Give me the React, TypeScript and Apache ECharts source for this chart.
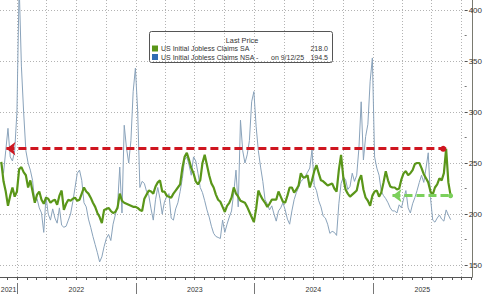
import React, { useEffect, useRef } from 'react';
import * as echarts from 'echarts';

const FONT = '"Liberation Sans", Arial, sans-serif';

// weekly observations, first week ending 2021-11-13
const FIRST_WEEK = '2021-11-13';
const saValues = [
  251, 232, 222, 208, 218, 226, 217, 222, 244, 246,
  241, 238, 226, 233, 222, 211, 219, 222, 214, 210,
  216, 215, 211, 213, 214, 209, 218, 223, 204, 210,
  214, 213, 215, 216, 213, 214, 220, 226, 222, 220,
  216, 211, 207, 201, 197, 191, 204, 205, 206, 203,
  201, 202, 206, 220, 213, 211, 210, 209, 208, 207,
  207, 206, 204, 203, 215, 219, 223, 222, 220, 227,
  231, 233, 222, 222, 218, 217, 216, 220, 223, 226,
  229, 245, 256, 260, 253, 245, 240, 232, 229, 233,
  250, 258, 248, 238, 230, 226, 219, 214, 212, 207,
  202, 208, 211, 216, 226, 220, 217, 213, 212, 211,
  207, 202, 197, 192, 205, 223, 218, 214, 211, 207,
  210, 214, 214, 214, 222, 217, 212, 211, 218, 226,
  226, 221, 224, 228, 240, 236, 236, 238, 226, 233,
  242, 248, 240, 233, 232, 230, 228, 229, 230, 225,
  222, 243, 258, 236, 224, 220, 217, 219, 221, 223,
  233, 238, 224, 216, 213, 208, 218, 222, 223, 217,
  221, 231, 242, 233, 227, 226, 226, 224, 225, 234,
  240, 242, 238, 240, 243, 249, 250, 250, 245, 239,
  235, 231, 222, 219, 226, 229, 235, 233, 240, 264,
  231, 218,
];
const nsaValues = [
  250, 240, 262, 284, 256, 252, 262, 300, 425, 345,
  300, 262, 250, 243, 233, 211, 215, 206, 201, 182,
  217, 200, 194, 205, 196, 191, 206, 189, 187, 188,
  194, 200, 212, 226, 240, 243, 233, 211, 207, 195,
  187, 178, 170, 162, 153, 158, 168, 176, 180, 174,
  190, 199, 208, 246, 201, 287, 265, 250, 272, 320,
  343, 302, 226, 232, 230, 222, 218, 205, 194, 214,
  226, 215, 200, 212, 217, 220, 196, 194, 205, 211,
  222, 235, 253, 256, 248, 238, 256, 252, 240, 226,
  221, 213, 204, 197, 188, 181, 178, 177, 176, 194,
  182, 190, 197, 203, 221, 243, 207, 292, 262, 250,
  258, 272, 310, 320, 286, 262, 246, 232, 214, 210,
  204, 208, 200, 193, 203, 206, 211, 204, 195, 190,
  203, 214, 221, 226, 232, 234, 237, 241, 245, 263,
  228, 223, 213, 207, 198, 196, 190, 181, 183, 182,
  179, 210, 230, 236, 234, 224, 227, 240, 232, 238,
  265, 310, 253, 276, 288, 330, 353, 256, 245, 238,
  222, 218, 215, 211, 206, 203, 203, 201, 209, 206,
  215, 223, 206, 201, 210, 216, 223, 231, 238, 231,
  245, 260, 216, 194, 192, 196, 199, 195, 193, 204,
  199, 194.5,
];

const yTicks = [150, 200, 250, 300, 350, 400];
const years = [2021, 2022, 2023, 2024, 2025];
const X_MIN = '2021-11-09';
const X_MAX = '2025-11-03';

const LEGEND_TITLE = 'Last Price';
const SA_NAME = 'US Initial Jobless Claims SA';
const NSA_NAME = 'US Initial Jobless Claims NSA -';
const NSA_DATE = 'on 9/12/25';

// annotations
const RED_LEVEL = 264;
const RED_FROM = '2021-11-29';
const RED_TO = '2025-08-28';
const GREEN_FROM = '2025-03-22';

const GREEN = '#5a9619';
const NSA_COLOR = '#8aa3bb';
const BLUE = '#2f6cb3';
const RED = '#cf1620';
const LIGHT_GREEN = '#7cd05c';
const GRID_COLOR = '#b3b3b3';

export default function App() {
  const ref = useRef<HTMLDivElement>(null);
  useEffect(() => {
    if (!ref.current) return;
    const chart = echarts.init(ref.current, undefined, { renderer: 'svg' });
    const t0 = new Date(FIRST_WEEK).getTime();
    const WEEK = 7 * 86400000;
    const dates = saValues.map((_, i) => t0 + i * WEEK);
    const saData = saValues.map((v, i) => [dates[i], v]);
    const nsaData = nsaValues.map((v, i) => [dates[i], v]);
    const xMin = new Date(X_MIN).getTime();
    const xMax = new Date(X_MAX).getTime();
    const lastDate = dates[dates.length - 1];
    const saLast = saValues[saValues.length - 1];
    const nsaLast = nsaValues[nsaValues.length - 1];

    const months: number[][] = [];
    for (let y = 2021; y <= 2025; y++) {
      for (let m = 0; m < 12; m++) {
        const t = Date.UTC(y, m, 1);
        if (t >= xMin && t <= xMax) months.push([t, 0]);
      }
    }
    const yearSpans = years.map((y) => [
      Math.max(Date.UTC(y, 0, 1), xMin),
      Math.min(Date.UTC(y + 1, 0, 1), xMax),
      y,
    ]);

    const legendText = (text: string, x: number, y: number, align: string, size = 7) => ({
      type: 'text', x, y,
      style: { text, align, verticalAlign: 'middle', fill: '#333', fontSize: size, fontFamily: FONT },
    });

    const option: any = {
      animation: false,
      grid: [
        { left: 0, right: 13, top: 0, bottom: 17 },
        { left: 0, right: 13, top: 10, bottom: 29 },
      ],
      xAxis: [
        {
          type: 'time', gridIndex: 0, min: xMin, max: xMax,
          axisLine: { show: true, onZero: false, lineStyle: { color: '#555', width: 1 } },
          axisTick: { show: false }, axisLabel: { show: false }, splitLine: { show: false },
        },
        { type: 'time', gridIndex: 1, min: xMin, max: xMax, show: false },
      ],
      yAxis: [
        {
          type: 'value', gridIndex: 0, min: 0, max: 1, position: 'right',
          axisLine: { show: true, onZero: false, lineStyle: { color: '#7a7a70', width: 1 } },
          axisTick: { show: false }, axisLabel: { show: false }, splitLine: { show: false },
        },
        {
          type: 'value', gridIndex: 1, min: yTicks[0], max: yTicks[yTicks.length - 1], interval: 50,
          position: 'right',
          axisLine: { show: false, onZero: false },
          axisTick: { show: true, length: 3, lineStyle: { color: '#555' } },
          minorTick: { show: true, splitNumber: 2, length: 2, lineStyle: { color: '#777' } },
          axisLabel: { color: '#333', fontSize: 8, fontFamily: FONT, margin: 4 },
          splitLine: { show: true, lineStyle: { color: GRID_COLOR, width: 1, type: [1, 2] } },
        },
      ],
      series: [
        {
          type: 'custom', xAxisIndex: 0, yAxisIndex: 0, clip: false, silent: true, z: 1,
          data: months,
          renderItem: (params: any, api: any) => {
            const t = api.value(0);
            const x = Math.round(api.coord([t, 0])[0]) + 0.5;
            const cs = params.coordSys;
            const top = cs.y;
            const bottom = cs.y + cs.height;
            const m = new Date(t).getUTCMonth();
            const children: any[] = [
              { type: 'line', shape: { x1: x, y1: bottom, x2: x, y2: bottom + 3 }, style: { stroke: '#555', lineWidth: 1 } },
            ];
            if (m % 3 === 0) {
              children.push({ type: 'line', shape: { x1: x, y1: top, x2: x, y2: bottom }, style: { stroke: GRID_COLOR, lineWidth: 1, lineDash: [1, 2] } });
            }
            if (m === 0) {
              children.push({ type: 'line', shape: { x1: x, y1: bottom + 6, x2: x, y2: bottom + 17 }, style: { stroke: '#777', lineWidth: 1 } });
            }
            return { type: 'group', children };
          },
        },
        {
          type: 'custom', xAxisIndex: 0, yAxisIndex: 0, clip: false, silent: true, z: 1,
          encode: { x: [0, 1] },
          data: yearSpans,
          renderItem: (params: any, api: any) => {
            const x1 = api.coord([api.value(0), 0])[0];
            const x2 = api.coord([api.value(1), 0])[0];
            const cs = params.coordSys;
            const bottom = cs.y + cs.height;
            return {
              type: 'text', x: (x1 + x2) / 2, y: bottom + 12,
              style: { text: String(api.value(2)), align: 'center', verticalAlign: 'middle', fill: '#333', fontSize: 7, fontFamily: FONT },
            };
          },
        },
        {
          name: 'NSA', type: 'line', xAxisIndex: 1, yAxisIndex: 1, data: nsaData,
          showSymbol: false, clip: false, z: 2,
          lineStyle: { color: NSA_COLOR, width: 1 },
          markLine: {
            silent: true, symbol: ['none', 'none'], animation: false,
            data: [
              {
                yAxis: nsaLast, lineStyle: { opacity: 0 },
                label: {
                  show: true, position: 'end', distance: 2, formatter: nsaLast.toFixed(1),
                  backgroundColor: BLUE, color: '#fff', fontSize: 7.5, fontFamily: FONT,
                  padding: [2, 3, 1, 3], borderRadius: 4,
                },
              },
            ],
          },
        },
        {
          name: 'SA', type: 'line', xAxisIndex: 1, yAxisIndex: 1, data: saData,
          showSymbol: false, clip: false, z: 3,
          lineStyle: { color: GREEN, width: 2.2 },
          markLine: {
            silent: true, symbol: ['none', 'none'], animation: false,
            label: { show: false },
            data: [
              [
                { coord: [new Date(RED_FROM).getTime(), RED_LEVEL], symbol: 'arrow', symbolSize: [10, 9], lineStyle: { color: RED, width: 3, type: [8, 4] } },
                { coord: [new Date(RED_TO).getTime(), RED_LEVEL], symbol: 'circle', symbolSize: 6, lineStyle: { color: RED, width: 3, type: [8, 4] } },
              ],
              [
                { coord: [new Date(GREEN_FROM).getTime(), saLast], symbol: 'arrow', symbolSize: [10, 9], lineStyle: { color: LIGHT_GREEN, width: 3, type: [8, 4] } },
                { coord: [lastDate, saLast], symbol: 'circle', symbolSize: 5, lineStyle: { color: LIGHT_GREEN, width: 3, type: [8, 4] } },
              ],
              {
                yAxis: saLast, lineStyle: { opacity: 0 },
                label: {
                  show: true, position: 'end', distance: 2, formatter: saLast.toFixed(1),
                  backgroundColor: GREEN, color: '#fff', fontSize: 7.5, fontFamily: FONT,
                  padding: [2, 3, 1, 3], borderRadius: 4,
                },
              },
            ],
          },
        },
      ],
      graphic: [
        {
          type: 'group', z: 100,
          children: [
            { type: 'rect', shape: { x: 149.5, y: 31.5, width: 183, height: 31, r: 2 }, style: { fill: '#fff', stroke: '#555', lineWidth: 1 } },
            legendText(LEGEND_TITLE, 242, 40.3, 'center', 7.3),
            { type: 'rect', shape: { x: 152, y: 45.5, width: 6, height: 6 }, style: { fill: GREEN } },
            legendText(SA_NAME, 161, 48.8, 'left'),
            legendText(saLast.toFixed(1), 328, 48.8, 'right'),
            { type: 'rect', shape: { x: 152, y: 54, width: 6, height: 6 }, style: { fill: BLUE } },
            legendText(NSA_NAME, 161, 57.3, 'left'),
            legendText(NSA_DATE, 271, 57.3, 'left'),
            legendText(nsaLast.toFixed(1), 328, 57.3, 'right'),
          ],
        },
      ],
    };
    chart.setOption(option);
    return () => chart.dispose();
  }, []);
  return (
    <div
      ref={ref}
      style={{ position: 'absolute', left: 0, top: 0, width: 485, height: 294, background: '#fff' }}
    />
  );
}
